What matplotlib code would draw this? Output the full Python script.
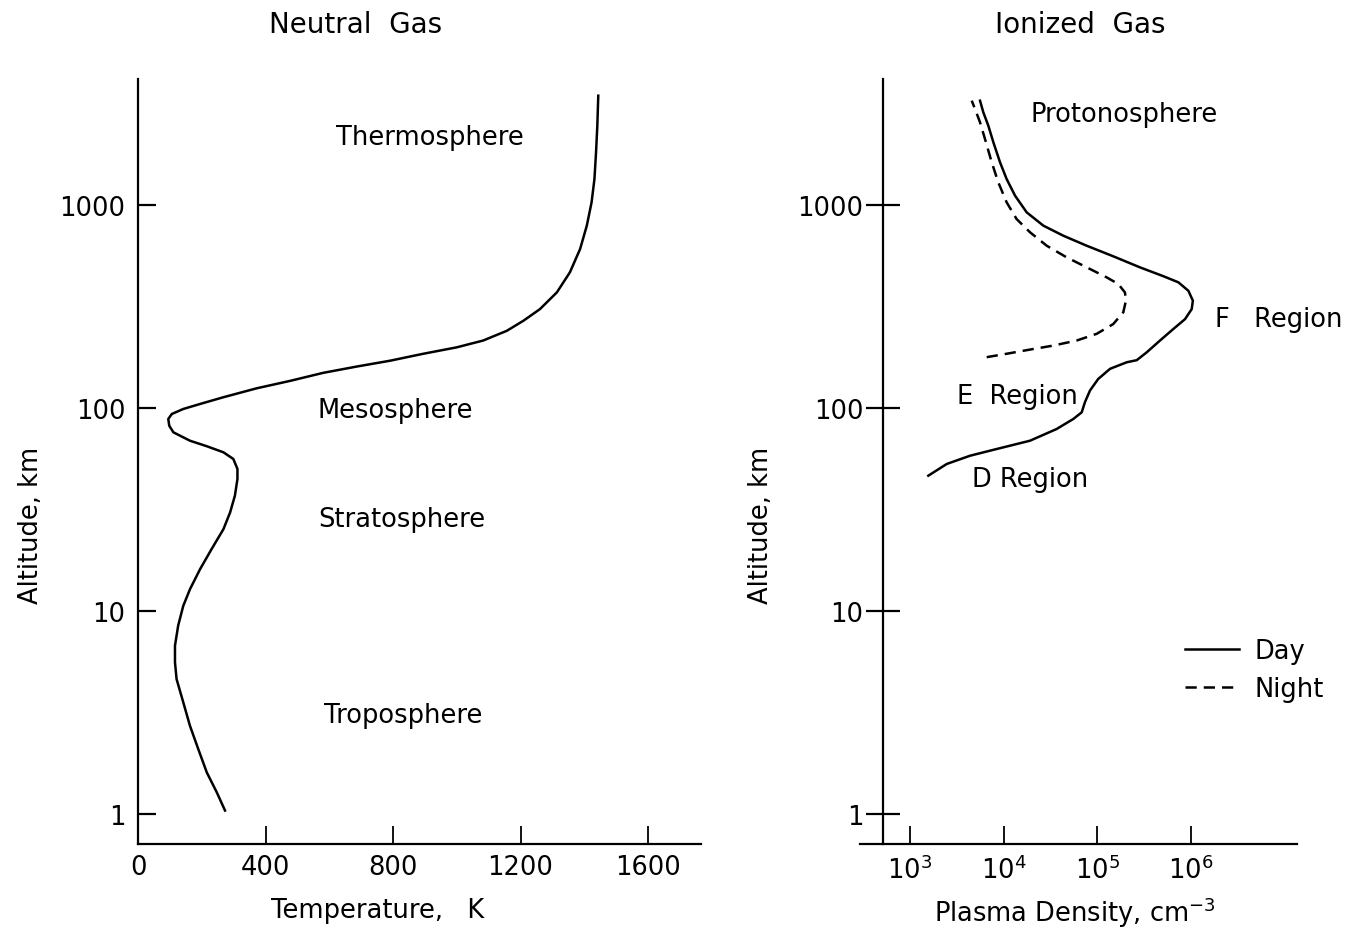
import numpy as np
import matplotlib
matplotlib.use('Agg')
import matplotlib.pyplot as plt
from matplotlib.ticker import FixedLocator, NullLocator

# neutral temperature profile (altitude km, temperature K), read bottom to top
temp_alt = [1.04, 1.28, 1.60, 2.09, 2.72, 3.55, 4.62, 5.59, 6.75, 8.47, 10.6, 12.8, 16.1,
            20.2, 25.3, 30.6, 37.0, 44.7, 50.1, 56.1, 60.5, 64.8, 69.0, 75.9, 81.8, 88.3,
            93.4, 98.9, 104.7, 113, 125, 136, 149, 160, 171, 185, 199, 215, 240, 269,
            307, 371, 466, 607, 791, 1031, 1343, 1818, 2459, 3455]
temp_K = [273, 247, 216, 189, 163, 142, 121, 116, 116, 126, 142, 163, 195,
          231, 268, 289, 304, 312, 312, 299, 268, 216, 163, 111, 98, 95,
          106, 142, 195, 268, 372, 477, 581, 686, 791, 895, 1000, 1083, 1157, 1209,
          1261, 1314, 1355, 1387, 1408, 1423, 1432, 1437, 1441, 1444]

# plasma density profiles (altitude km, density cm^-3)
day_alt = [46.4, 53.0, 58.2, 62.8, 69.0, 78.8, 88.3, 95.2, 107, 122, 139, 156, 168, 172,
           188, 215, 245, 274, 307, 338, 378, 416, 446, 493, 559, 630, 706, 791, 920,
           1111, 1343, 1623, 2037, 2459, 2863, 3265]
day_n = [1570, 2470, 4390, 8450, 19200, 37000, 55800, 68600, 74400, 84200, 103000,
         138000, 208000, 266000, 340000, 472000, 655000, 874000, 1.03e6, 1.06e6, 949000,
         742000, 512000, 288000, 149000, 77600, 43600, 26700, 17700, 13300, 10800, 9180,
         7790, 6880, 6080, 5610]
night_alt = [178, 185, 194, 203, 215, 232, 259, 296, 338, 371, 408, 440, 493, 552, 630,
             734, 853, 1031, 1294, 1623, 2114, 2554, 2972, 3265]
night_n = [6610, 10800, 19200, 34100, 60700, 99300, 149000, 191000, 204000, 199000,
           169000, 127000, 77600, 47400, 29000, 19200, 13800, 10800, 8790, 7480, 6340,
           5610, 4960, 4570]

alt_ticks = [1, 10, 100, 1000]
alt_labels = ['1', '10', '100', '1000']
temp_ticks = [0, 400, 800, 1200, 1600]
dens_ticks = [1e3, 1e4, 1e5, 1e6]
dens_labels = ['$\\mathregular{10^3}$', '$\\mathregular{10^4}$', '$\\mathregular{10^5}$', '$\\mathregular{10^6}$']

plt.rcParams['font.family'] = ['DejaVu Sans']
W, H = 1359, 937
fig = plt.figure(figsize=(W / 100, H / 100), dpi=100)

def px_axes(x0, x1, ytop, ybot):
    return fig.add_axes([x0 / W, 1 - ybot / H, (x1 - x0) / W, (ybot - ytop) / H])

def alt_at(py):
    # altitude at a pixel row of the page
    return 10 ** ((815 - py) / 203)

ylo = alt_at(845)
yhi = alt_at(80)
lw = 1.8
fs = 18.5
tfs = 20

# left panel
ax1 = px_axes(138, 701, 80, 845)
ax1.plot(temp_K, temp_alt, color='black', lw=lw)
ax1.set_yscale('log')
ax1.set_xlim(0, 563 / 0.31875)
ax1.set_ylim(ylo, yhi)
for s in ['top', 'right']:
    ax1.spines[s].set_visible(False)
for s in ['left', 'bottom']:
    ax1.spines[s].set_linewidth(1.6)
ax1.yaxis.set_major_locator(FixedLocator(alt_ticks))
ax1.set_yticklabels(alt_labels)
ax1.yaxis.set_minor_locator(NullLocator())
ax1.set_xticks(temp_ticks)
ax1.tick_params(axis='y', direction='in', length=13, width=1.6, labelsize=fs, pad=9)
ax1.tick_params(axis='x', direction='in', length=13, width=1.3, labelsize=fs, pad=7)
ax1.set_xlabel('Temperature,   K', fontsize=fs)
ax1.xaxis.set_label_coords((378 - 138) / 563, -(898 - 845) / 765)
ax1.set_ylabel('Altitude, km', fontsize=fs)
ax1.yaxis.set_label_coords(-(138 - 44) / 563, 1 - (525 - 80) / 765)
ax1.set_title('Neutral  Gas', fontsize=tfs, pad=34, x=(356 - 138) / 563)
ax1.text(916, alt_at(138), 'Thermosphere', fontsize=fs, ha='center', va='center')
ax1.text(806, alt_at(411), 'Mesosphere', fontsize=fs, ha='center', va='center')
ax1.text(828, alt_at(520), 'Stratosphere', fontsize=fs, ha='center', va='center')
ax1.text(831, alt_at(716), 'Troposphere', fontsize=fs, ha='center', va='center')

# right panel
def dx(px):
    return 10 ** (3 + (px - 910) / 93.5)

ax2 = px_axes(860, 1297, 80, 845)
ax2.plot(day_n, day_alt, color='black', lw=lw, label='Day')
ax2.plot(night_n, night_alt, color='black', lw=lw, ls=(0, (4.5, 2.8)), label='Night')
ax2.set_xscale('log')
ax2.set_yscale('log')
ax2.set_xlim(dx(860), dx(1297))
ax2.set_ylim(ylo, yhi)
for s in ['top', 'right']:
    ax2.spines[s].set_visible(False)
ax2.spines['left'].set_position(('data', dx(883)))
for s in ['left', 'bottom']:
    ax2.spines[s].set_linewidth(1.6)
ax2.yaxis.set_major_locator(FixedLocator(alt_ticks))
ax2.set_yticklabels(alt_labels)
ax2.yaxis.set_minor_locator(NullLocator())
ax2.xaxis.set_major_locator(FixedLocator(dens_ticks))
ax2.set_xticklabels(dens_labels)
ax2.xaxis.set_minor_locator(NullLocator())
ax2.tick_params(axis='y', direction='inout', length=24, width=1.6, labelsize=fs, pad=2)
ax2.tick_params(axis='x', direction='in', length=13, width=1.3, labelsize=fs, pad=8)
ax2.set_xlabel('Plasma Density, $\\mathregular{cm^{-3}}$', fontsize=fs)
ax2.xaxis.set_label_coords((1075 - 860) / 437, -(896 - 845) / 765)
ax2.set_ylabel('Altitude, km', fontsize=fs)
ax2.yaxis.set_label_coords(-(860 - 774) / 437, 1 - (525 - 80) / 765)
ax2.set_title('Ionized  Gas', fontsize=tfs, pad=34, x=(1080 - 860) / 437)
ax2.text(dx(1124), alt_at(115), 'Protonosphere', fontsize=fs, ha='center', va='center')
ax2.text(dx(1215), alt_at(320), 'F   Region', fontsize=fs, ha='left', va='center')
ax2.text(dx(1017), alt_at(397), 'E  Region', fontsize=fs, ha='center', va='center')
ax2.text(dx(1030), alt_at(480), 'D Region', fontsize=fs, ha='center', va='center')
ax2.legend(loc='upper left', bbox_to_anchor=((1162 - 860) / 437, 1 - (616 - 80) / 765),
           frameon=False, fontsize=fs, handlelength=2.1, handletextpad=0.6, labelspacing=0.45)

fig.savefig('out.png', dpi=100)
